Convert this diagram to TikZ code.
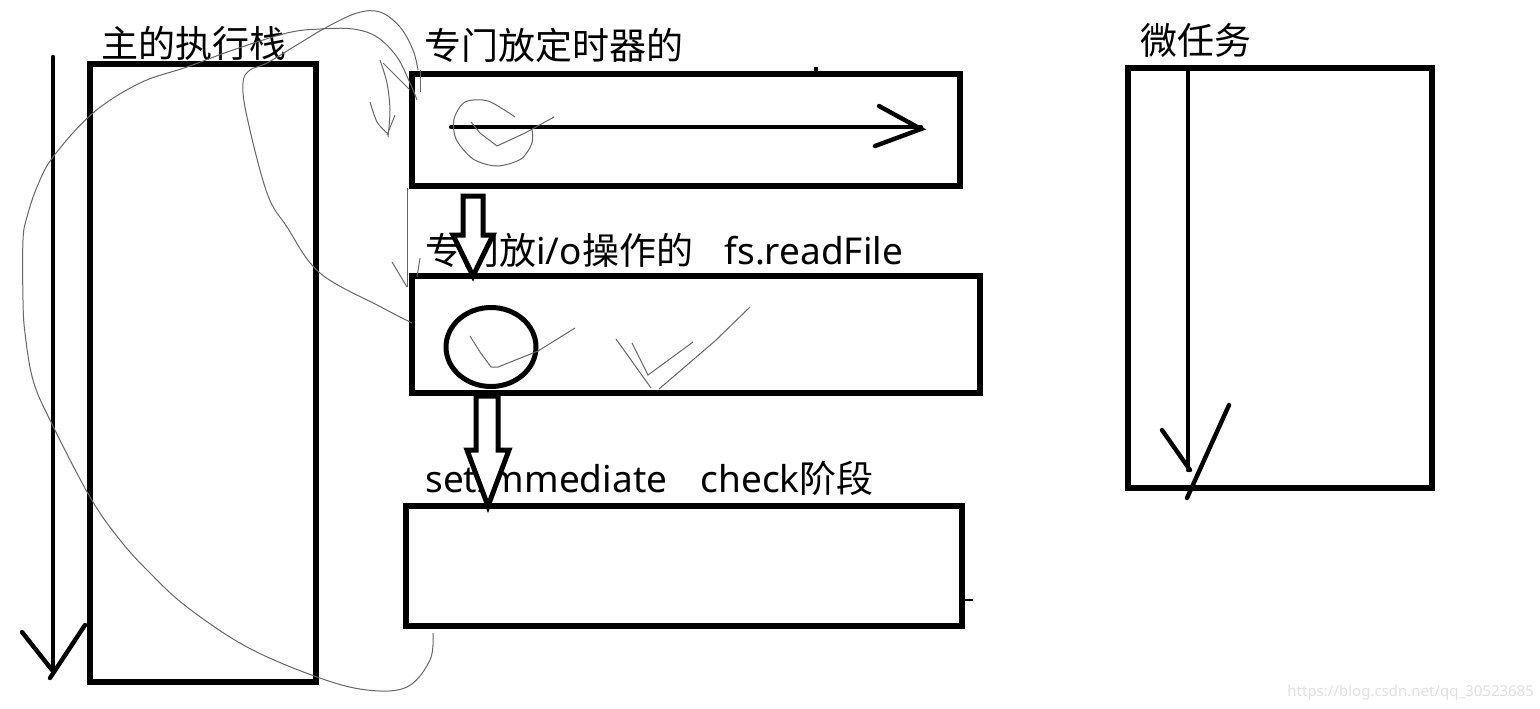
\documentclass[tikz,border=0pt]{standalone}
\usepackage{fontspec}
\setmainfont{Noto Sans}
\newfontfamily\cjk{Noto Sans CJK SC}
\usetikzlibrary{calc, shapes.geometric}

\tikzset{
  box/.style={draw, line width=3pt, outer sep=0pt, inner sep=0pt, anchor=north west},
  title/.style={anchor=base west, inner sep=0pt, font=\fontsize{18.5pt}{22pt}\selectfont},
  pen/.style={line width=2.2pt, line cap=round},
  fatarrow/.style={draw, fill=white, line width=2.5pt, line join=miter},
  scribble/.style={black!60, line width=0.5pt},
}

\begin{document}
\begin{tikzpicture}[x=0.5pt, y=-0.5pt]
    \useasboundingbox[fill=white] (0,0) rectangle (1540,708);
    % Queues
    \node[box, minimum width=113pt, minimum height=309pt] (stack) at (90,64) {};
    \node[box, minimum width=274pt, minimum height=56pt] (timer) at (412,74) {};
    \node[box, minimum width=284pt, minimum height=58.5pt] (io) at (412,276) {};
    \node[box, minimum width=278pt, minimum height=60pt] (check) at (406,506) {};
    \node[box, minimum width=152pt, minimum height=210pt] (micro) at (1128,68) {};
    % Titles
    \node[title] (stacklbl) at (101,57) {\cjk 主的执行栈};
    \node[title] (timerlbl) at (424,59) {\cjk 专门放定时器的};
    \node[title] (iolbl) at (425,264) {{\cjk 专门放}i/o{\cjk 操作的}\hspace{0.85em}fs.readFile};
    \node[title] (checklbl) at (425,492) {setImmediate\hspace{0.9em}check{\cjk 阶段}};
    \node[title] (microlbl) at (1140,54) {\cjk 微任务};
    % Pending callback
    \node[ellipse, draw, line width=2.5pt, inner sep=0pt, minimum width=45pt, minimum height=39.5pt] (cb) at (491,347) {};
    % Phase arrows
    \coordinate (a1) at ($(timer.south west)+(61,10)$);
    \coordinate (a1tip) at ($(io.north west)+(61,0)$);
    \draw[fatarrow] ($(a1)+(-10,0)$) -- ($(a1)+(10,0)$) -- ($(a1)+(10,39)$) -- ($(a1)+(20,39)$)
        -- (a1tip) -- ($(a1)+(-20,39)$) -- ($(a1)+(-10,39)$) -- cycle;
    \coordinate (a2) at ($(io.south west)+(75,3)$);
    \coordinate (a2tip) at ($(check.north west)+(82,0)$);
    \draw[fatarrow] ($(a2)+(-11,0)$) -- ($(a2)+(11,0)$) -- ($(a2)+(11,54)$) -- ($(a2)+(22,54)$)
        -- (a2tip) -- ($(a2)+(-20,54)$) -- ($(a2)+(-11,54)$) -- cycle;
    % Hand drawn arrows
    \draw[pen] (53,57) -- (53,668);
    \draw[pen] (22,632) -- (52,670);
    \draw[pen] (85,625) -- (50,678);
    \draw[pen] (451,127) -- (921,127);
    \draw[pen] (879,106) -- (921,129) -- (875,146);
    \draw[pen] (micro.north -| 1188,0) -- (1188,470);
    \draw[pen] (1162,430) -- (1190,470);
    \draw[pen] (1229,405) -- (1187,498);
    % Stray marks
    \draw[line width=2pt] (816,67) -- (816,74);
    \draw[line width=0.6pt] (965,600) -- (973,600);
    % Pencil loops
    \draw[scribble] plot[smooth, tension=0.6] coordinates {(433,633) (430,660) (407,687) (367,690)
        (317,677) (247,647) (187,607) (150,573) (120,540) (90,497) (50,420) (33,380) (25,333)
        (23,300) (23,240) (27,217) (37,187) (53,157) (93,113) (140,83) (187,67) (233,50)
        (287,33) (320,29) (353,29) (377,37) (397,57) (410,83) (417,100)};
    \draw[scribble] plot[smooth, tension=0.6] coordinates {(412,323) (381,307) (320,273) (287,227)
        (267,193) (247,117) (243,83) (250,70) (267,63) (300,43) (327,27) (357,13) (380,12)
        (400,27) (413,50) (418,70)};
    \draw[scribble] (420,70) -- (420,92);
    \draw[scribble] plot[smooth] coordinates {(380,60) (387,83) (390,110) (388,137)};
    \draw[scribble] plot[smooth] coordinates {(370,102) (377,122) (387,133)};
    \draw[scribble] (395,115) -- (387,135);
    \draw[scribble] (383,63) -- (410,90);
    \draw[scribble] (407,188) -- (407,287);
    \draw[scribble] (392,262) -- (407,287);
    \draw[scribble] (420,258) -- (417,277);
    % Ticks
    \draw[scribble] plot[smooth] coordinates {(515,117) (488,101) (465,102) (454,119) (456,139)
        (473,159) (497,166) (521,159) (532,143) (532,129)};
    \draw[scribble] (471,122) -- (480,133) -- (497,146) -- (525,133) -- (554,117);
    \draw[scribble] (470,336) -- (480,352) -- (491,367) -- (498,367) -- (538,351) -- (575,328);
    \draw[scribble] (616,339) -- (651,388);
    \draw[scribble] (632,343) -- (648,375) -- (693,342);
    \draw[scribble] (659,389) -- (715,341) -- (750,307);
    % Watermark
    \node[anchor=base west, inner sep=0pt, text=black!12, font=\fontsize{7.5pt}{9pt}\selectfont] (mark) at (1287,696) {https://blog.csdn.net/qq\_30523685};
\end{tikzpicture}
\end{document}
